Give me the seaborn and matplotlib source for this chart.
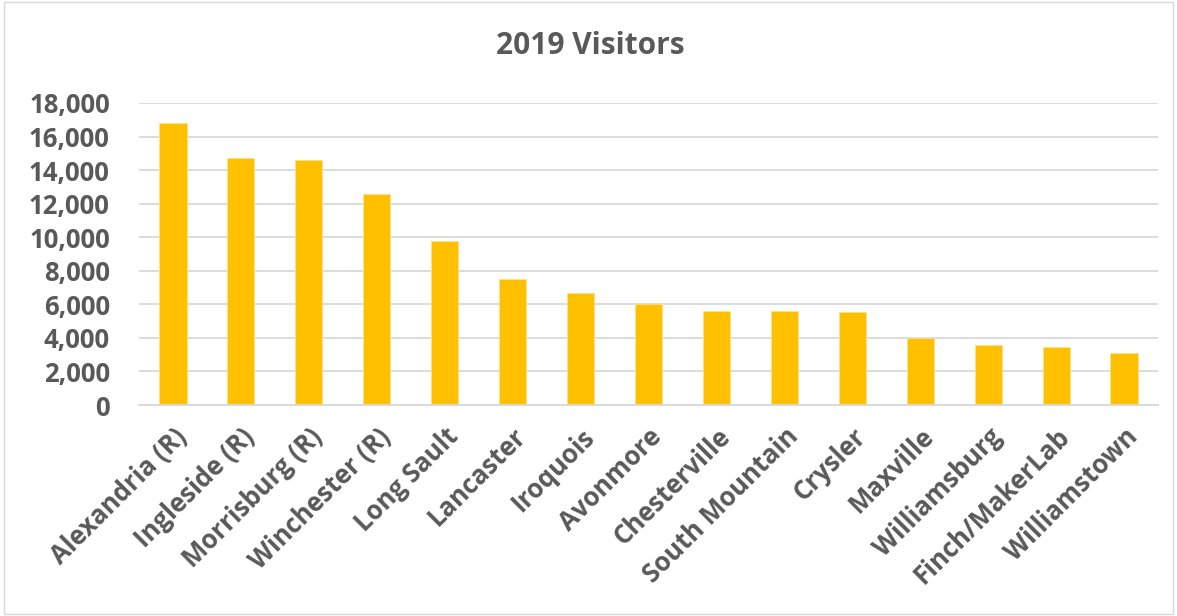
import matplotlib
matplotlib.use("Agg")
import matplotlib.pyplot as plt
import seaborn as sns
import pandas as pd

categories = ["Alexandria (R)", "Ingleside (R)", "Morrisburg (R)", "Winchester (R)",
              "Long Sault", "Lancaster", "Iroquois", "Avonmore", "Chesterville",
              "South Mountain", "Crysler", "Maxville", "Williamsburg",
              "Finch/MakerLab", "Williamstown"]
visitors = [16800, 14700, 14600, 12550, 9800, 7500, 6650, 6000, 5620, 5620,
            5520, 3970, 3590, 3450, 3070]
yticks = [0, 2000, 4000, 6000, 8000, 10000, 12000, 14000, 16000, 18000]

df = pd.DataFrame({"Location": categories, "Visitors": visitors})

sns.set_theme(style="white")
plt.rcParams['font.family'] = ['Open Sans', 'DejaVu Sans']

fig = plt.figure(figsize=(11.77, 6.16), dpi=100)
ax = fig.add_axes([139/1177, 1-405/616, (1158-139)/1177, (405-103)/616])

sns.barplot(data=df, x="Location", y="Visitors", color="#FFC000", width=0.4,
            saturation=1, ax=ax, edgecolor="#FFE08A", linewidth=0.6)

ax.set_ylim(0, 18000)
ax.set_yticks(yticks)
ax.set_yticklabels([f"{v:,}" for v in yticks], fontsize=18.5, fontweight='bold', color="#595959")
ax.set_xticks(range(len(categories)))
ax.set_xticklabels(categories, rotation=45, ha='right', rotation_mode='anchor',
                   fontsize=18.5, fontweight='bold', color="#595959")
ax.tick_params(axis='y', length=0, pad=21)
ax.tick_params(axis='x', length=0, pad=13)
ax.set_xlabel("")
ax.set_ylabel("")
ax.yaxis.grid(True, color="#D9D9D9", linewidth=1.3)
ax.set_axisbelow(True)
for s in ["top", "right", "left"]:
    ax.spines[s].set_visible(False)
ax.spines["bottom"].set_color("#D9D9D9")
ax.spines["bottom"].set_linewidth(1.3)
ax.set_xlim(-0.5, len(categories) - 0.5)

fig.text(590/1177, 1-46/616, "2019 Visitors", ha='center', va='center',
         fontsize=21.5, fontweight='bold', color="#595959")

border = plt.Rectangle((0.003, 0.003), 0.994, 0.994, transform=fig.transFigure,
                       fill=False, edgecolor="#D9D9D9", linewidth=1)
fig.patches.append(border)

fig.savefig("out.png", dpi=100)
